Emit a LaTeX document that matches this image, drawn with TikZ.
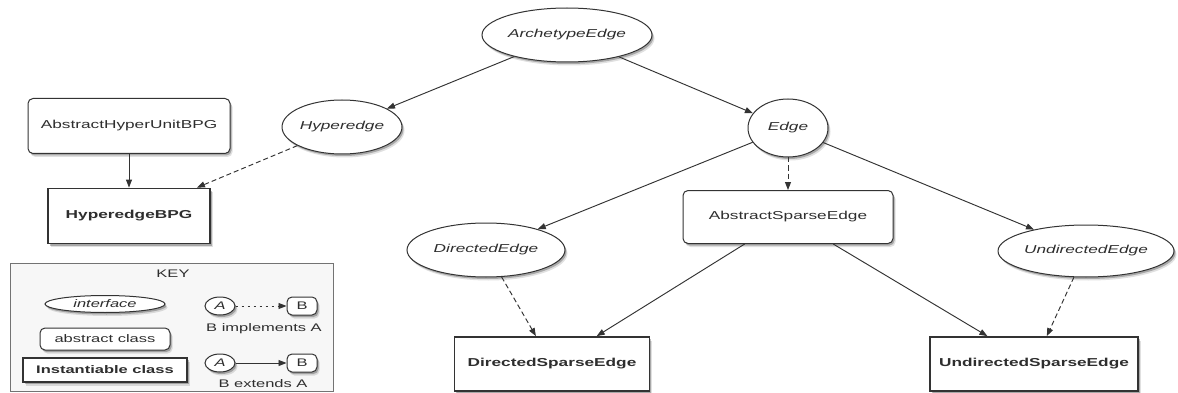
\documentclass[tikz,border=0pt]{standalone}
\usepackage{fontspec}
\setmainfont{Liberation Sans}[FakeStretch=1.5]
\usetikzlibrary{arrows.meta,shapes.geometric,shadows}

\definecolor{inkc}{HTML}{2E2E2E}
\definecolor{linec}{HTML}{333333}

\tikzset{
  shade/.style={
    drop shadow={shadow xshift=2.5pt, shadow yshift=-3.5pt, opacity=0.12, fill=black},
    drop shadow={shadow xshift=1.5pt, shadow yshift=-2pt, opacity=0.25, fill=black}},
  iface/.style={ellipse, draw=linec, line width=1pt, fill=white, inner sep=0pt,
    text=inkc, font=\fontsize{11.5}{13}\selectfont\itshape, shade},
  abscls/.style={rectangle, rounded corners=5pt, draw=linec, line width=1pt, fill=white,
    inner sep=0pt, text=inkc, font=\fontsize{11.5}{13}\selectfont, shade},
  instcls/.style={rectangle, draw=linec, line width=1.8pt, fill=white,
    inner sep=0pt, text=inkc, font=\fontsize{11.5}{13}\selectfont\bfseries, shade},
  ext/.style={draw=linec, line width=0.95pt, -{Triangle[length=8pt,width=6pt]}},
  impl/.style={ext, dash pattern=on 5pt off 3pt},
  keyimpl/.style={ext, dash pattern=on 2pt off 4pt},
  keytext/.style={text=inkc, font=\fontsize{11}{12}\selectfont, inner sep=0pt}
}

\begin{document}
\begin{tikzpicture}[x=1pt, y=-1pt]
  \useasboundingbox (0,0) rectangle (1178,393);

  % hierarchy of edge types
  \node[iface, minimum width=170pt, minimum height=54pt] (arch) at (567,35) {ArchetypeEdge};
  \node[iface, minimum width=120pt, minimum height=54pt] (hyper) at (342,127) {Hyperedge};
  \node[iface, minimum width=80pt, minimum height=58pt] (edge) at (788,128) {Edge};
  \node[abscls, minimum width=202pt, minimum height=55pt] (ahu) at (129,126) {AbstractHyperUnitBPG};
  \node[instcls, minimum width=162pt, minimum height=55pt] (hbpg) at (129,216) {HyperedgeBPG};
  \node[abscls, minimum width=210pt, minimum height=53pt] (ase) at (788,217) {AbstractSparseEdge};
  \node[iface, minimum width=158pt, minimum height=54pt] (dedge) at (486,250) {DirectedEdge};
  \node[iface, minimum width=176pt, minimum height=52pt] (uedge) at (1086,251) {UndirectedEdge};
  \node[instcls, minimum width=195pt, minimum height=54pt] (dse) at (552,364) {DirectedSparseEdge};
  \node[instcls, minimum width=208pt, minimum height=54pt] (use) at (1034,364) {UndirectedSparseEdge};

  \draw[ext] (arch) -- (hyper);
  \draw[ext] (arch) -- (edge);
  \draw[ext] (ahu) -- (hbpg);
  \draw[impl] (hyper) -- (hbpg);
  \draw[ext] (edge) -- (dedge);
  \draw[impl] (edge) -- (ase);
  \draw[ext] (edge) -- (uedge);
  \draw[impl] (dedge) -- (dse);
  \draw[ext] (ase) -- (dse);
  \draw[ext] (ase) -- (use);
  \draw[impl] (uedge) -- (use);

  % legend
  \node[draw=black!55, line width=1pt, fill=black!3, minimum width=323pt, minimum height=128pt,
        inner sep=0pt] (keybox) at (171.5,327) {};
  \node[keytext] (keylbl) at (173,274) {KEY};
  \node[iface, minimum width=120pt, minimum height=17pt, font=\fontsize{11}{12}\selectfont\itshape]
    (kint) at (105,304) {interface};
  \node[abscls, minimum width=130pt, minimum height=22pt, font=\fontsize{11}{12}\selectfont]
    (kabs) at (105,339) {abstract class};
  \node[instcls, minimum width=164pt, minimum height=24pt, font=\fontsize{11}{12}\selectfont\bfseries]
    (kinst) at (105,370) {Instantiable class};

  \node[iface, minimum width=30pt, minimum height=18pt, font=\fontsize{11}{12}\selectfont\itshape]
    (ka1) at (220,306) {A};
  \node[abscls, minimum width=30pt, minimum height=18pt, font=\fontsize{11}{12}\selectfont]
    (kb1) at (302,306) {B};
  \draw[keyimpl] (ka1) -- (kb1);
  \node[keytext] (kimpl) at (264,329) {B implements A};

  \node[iface, minimum width=30pt, minimum height=18pt, font=\fontsize{11}{12}\selectfont\itshape]
    (ka2) at (220,363) {A};
  \node[abscls, minimum width=30pt, minimum height=18pt, font=\fontsize{11}{12}\selectfont]
    (kb2) at (302,363) {B};
  \draw[ext] (ka2) -- (kb2);
  \node[keytext] (kext) at (263,384) {B extends A};
\end{tikzpicture}
\end{document}
